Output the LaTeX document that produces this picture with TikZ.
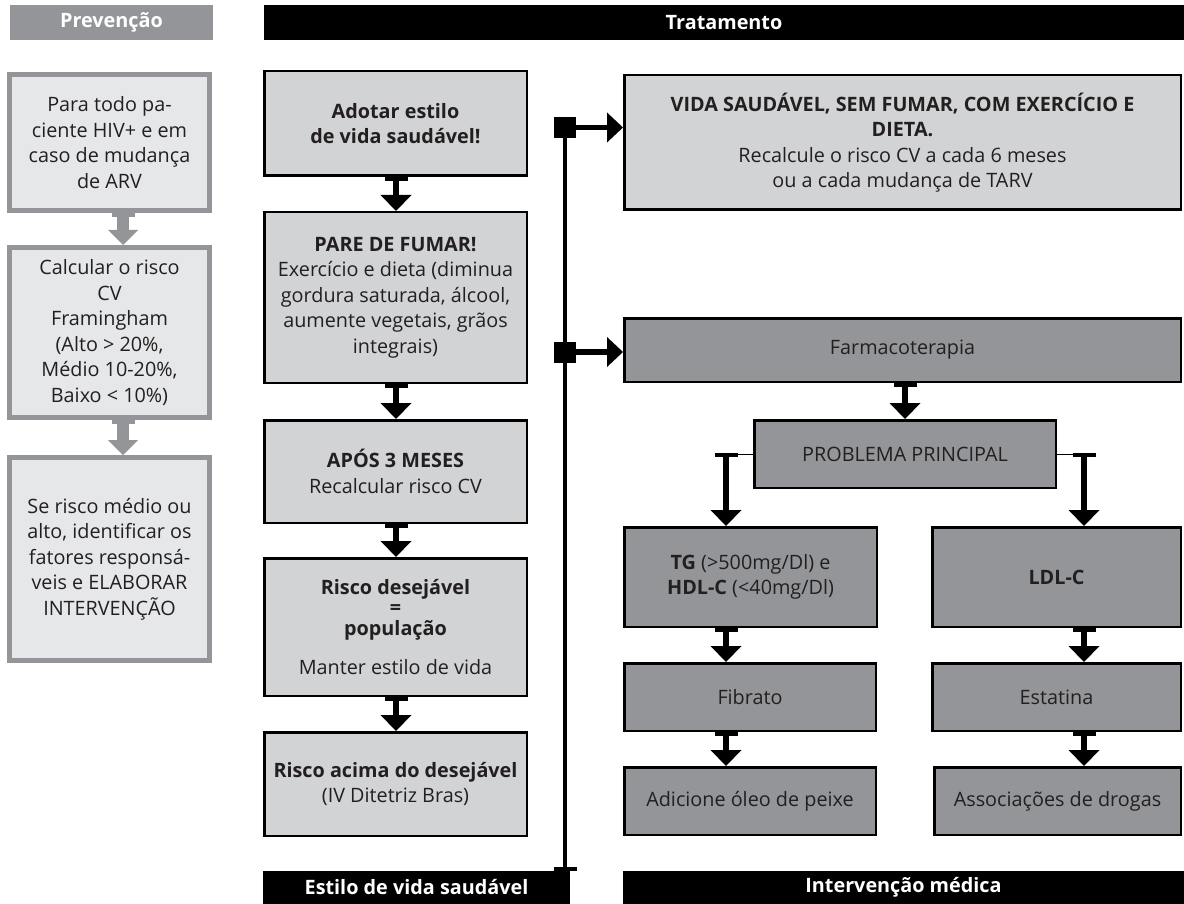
\documentclass[tikz,border=0pt]{standalone}
\usepackage{fontspec}
\setmainfont{Open Sans}
\usetikzlibrary{arrows.meta}
\definecolor{lfill}{HTML}{E6E7E8}
\definecolor{cfill}{HTML}{D1D3D4}
\definecolor{dgray}{HTML}{939598}
\definecolor{txt}{HTML}{231F20}
\newcommand\dgfont{\fontsize{19.8pt}{25.5pt}\selectfont}
\tikzset{
  base/.style={inner sep=0pt, align=center, font=\dgfont, text=txt},
  lbox/.style={base, draw=dgray, line width=5pt, fill=lfill},
  cbox/.style={base, draw=black, line width=2.5pt, fill=cfill},
  rbox/.style={base, draw=black, line width=2.5pt, fill=dgray},
  hdr/.style={inner sep=0pt, font=\dgfont\bfseries, text=white},
  barr/.style={draw=black, line width=5.5pt,
    arrows={Rectangle[length=4pt,width=23pt,line width=0pt]-Triangle[length=16pt,width=31pt,line width=0pt]}},
  garr/.style={draw=dgray, line width=12pt,
    arrows={Rectangle[length=4pt,width=23pt,line width=0pt]-Triangle[length=15pt,width=30pt,line width=0pt]}},
  harr/.style={draw=black, line width=5.5pt,
    arrows={Rectangle[length=22pt,width=21pt,line width=0pt]-Triangle[length=16pt,width=30pt,line width=0pt]}},
  vline/.style={draw=black, line width=4pt,
    arrows={-Rectangle[length=4pt,width=23pt,line width=0pt]}},
  thinline/.style={draw=black, line width=1pt}
}
\begin{document}
\begin{tikzpicture}[x=1pt,y=-1pt]
\useasboundingbox (0,0) rectangle (1184,904);

% headers and footers
\node[hdr, fill=dgray, minimum width=203pt, minimum height=35pt] (prev) at (111.5,22.5) {Prevenção};
\node[hdr, fill=black, minimum width=920pt, minimum height=35pt] (trat) at (724,22.5) {Tratamento};
\node[hdr, fill=black, minimum width=307pt, minimum height=33pt] (estilo) at (416.5,887.5) {Estilo de vida saudável};
\node[hdr, fill=black, minimum width=561pt, minimum height=33pt] (interv) at (903.5,887.5) {Intervenção médica};

% left column (Prevenção)
\node[lbox, minimum width=200pt, minimum height=136pt] (b1) at (109.5,142.5)
  {Para todo pa-\\ciente HIV+ e em\\caso de mudança\\de ARV};
\node[lbox, minimum width=200pt, minimum height=170pt] (b2) at (109.5,332.5)
  {Calcular o risco\\CV\\Framingham\\(Alto > 20\%,\\Médio 10-20\%,\\Baixo < 10\%)};
\node[lbox, minimum width=200pt, minimum height=203pt] (b3) at (109.5,559)
  {Se risco médio ou\\alto, identificar os\\fatores responsá-\\veis e ELABORAR\\INTERVENÇÃO};
\coordinate (gx) at (123,0);
\draw[garr] (b1.south -| gx) -- (b2.north -| gx);
\draw[garr] (b2.south -| gx) -- (b3.north -| gx);

% centre column (Estilo de vida)
\node[cbox, minimum width=262.5pt, minimum height=104.5pt] (ca) at (395.5,123.5)
  {\bfseries Adotar estilo\\\bfseries de vida saudável!};
\node[cbox, minimum width=262.5pt, minimum height=170.5pt] (cb) at (395.5,297.5)
  {\textbf{PARE DE FUMAR!}\\Exercício e dieta (diminua\\gordura saturada, álcool,\\aumente vegetais, grãos\\integrais)};
\node[cbox, minimum width=262.5pt, minimum height=102.5pt] (cc) at (395.5,471.5)
  {\textbf{APÓS 3 MESES}\\Recalcular risco CV};
\node[cbox, minimum width=262.5pt, minimum height=137.5pt] (cd) at (395.5,627)
  {\textbf{Risco desejável}\\[-5pt]\textbf{=}\\[-5pt]\textbf{população}\\[14pt]Manter estilo de vida};
\node[cbox, minimum width=262.5pt, minimum height=103.5pt] (ce) at (395.5,784)
  {\textbf{Risco acima do desejável}\\(IV Ditetriz Bras)};
\coordinate (cx) at (396,0);
\draw[barr] (ca.south -| cx) -- (cb.north -| cx);
\draw[barr] (cb.south -| cx) -- (cc.north -| cx);
\draw[barr] (cc.south -| cx) -- (cd.north -| cx);
\draw[barr] (cd.south -| cx) -- (ce.north -| cx);

% vertical line with branches
\coordinate (vtop) at (565,117);
\coordinate (vbot) at (565,871);
\draw[vline] (vtop) -- (vbot);

% right column (Intervenção médica)
\node[cbox, minimum width=556.5pt, minimum height=134.5pt] (vida) at (902.5,142.5)
  {\textbf{VIDA SAUDÁVEL, SEM FUMAR, COM EXERCÍCIO E}\\\textbf{DIETA.}\\Recalcule o risco CV a cada 6 meses\\ou a cada mudança de TARV};
\node[rbox, minimum width=556.5pt, minimum height=63.5pt] (farm) at (902.5,350) {Farmacoterapia};
\node[rbox, minimum width=301.5pt, minimum height=67.5pt] (prob) at (905,454) {PROBLEMA PRINCIPAL};
\node[rbox, minimum width=252.5pt, minimum height=99.5pt] (tg) at (750.5,577)
  {\textbf{TG} (>500mg/Dl) e\\\textbf{HDL-C} (<40mg/Dl)};
\node[rbox, minimum width=248.5pt, minimum height=99.5pt] (ldl) at (1056.5,577) {\textbf{LDL-C}};
\node[rbox, minimum width=251.5pt, minimum height=67.5pt] (fib) at (750,697) {Fibrato};
\node[rbox, minimum width=248.5pt, minimum height=67.5pt] (est) at (1056.5,697) {Estatina};
\node[rbox, minimum width=251.5pt, minimum height=67.5pt] (adic) at (750,801) {Adicione óleo de peixe};
\node[rbox, minimum width=246.5pt, minimum height=67.5pt] (assoc) at (1057.5,801) {Associações de drogas};

\coordinate (s1) at (554,127.5);
\coordinate (s2) at (554,352);
\draw[harr] (s1) -- (vida.west |- s1);
\draw[harr] (s2) -- (farm.west |- s2);

\coordinate (fx) at (905,0);
\draw[barr] (farm.south -| fx) -- (prob.north -| fx);
\coordinate (pl) at (726,453);
\coordinate (pr) at (1084,453);
\draw[thinline] (prob.west) -- (prob.west -| pl);
\draw[thinline] (prob.east) -- (prob.east -| pr);
\draw[barr] (pl) -- (tg.north -| pl);
\draw[barr] (pr) -- (ldl.north -| pr);
\coordinate (lx) at (726,0);
\coordinate (rx) at (1084,0);
\draw[barr] (tg.south -| lx) -- (fib.north -| lx);
\draw[barr] (fib.south -| lx) -- (adic.north -| lx);
\draw[barr] (ldl.south -| rx) -- (est.north -| rx);
\draw[barr] (est.south -| rx) -- (assoc.north -| rx);
\end{tikzpicture}
\end{document}
